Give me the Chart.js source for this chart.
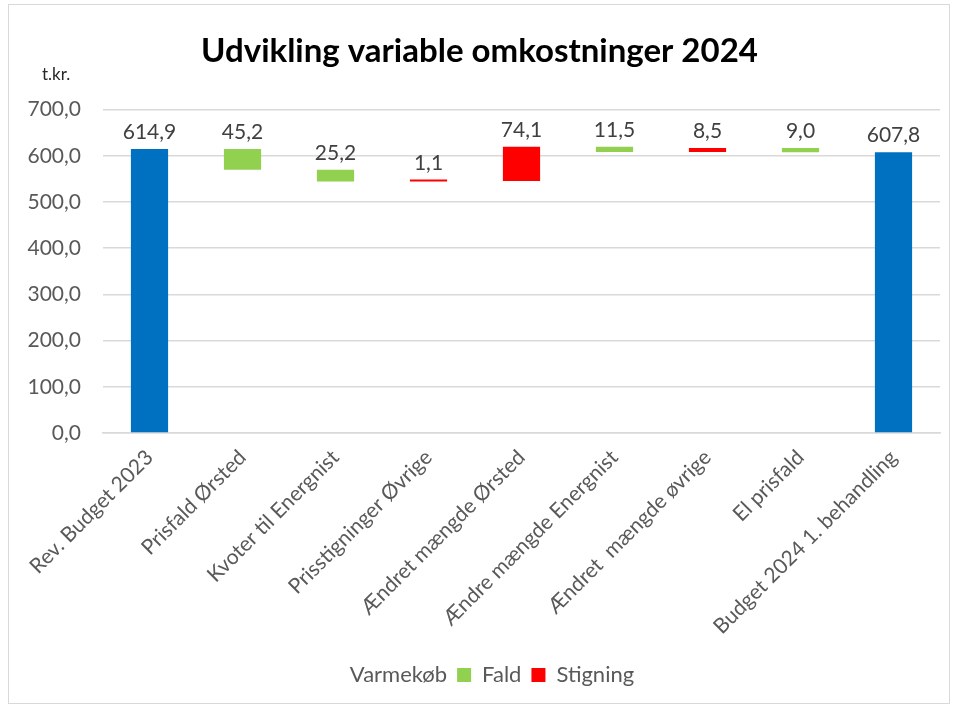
<!DOCTYPE html>
<html>
<head>
<meta charset="utf-8">
<script src="https://cdn.jsdelivr.net/npm/chart.js@4"></script>
<style>
    body { margin: 0; background: #fff; }
    #Wrap { position: absolute; left: 8px; top: 4px; width: 940px; height: 698px; border: 1px solid #D9D9D9; }
    #Unit { position: absolute; left: 33px; top: 58px; font: 17px Lato, sans-serif; color: #262626; }
</style>
</head>
<body>
<div id="Wrap">
    <canvas id="ChartCanvas1" width="940" height="698"></canvas>
    <div id="Unit">t.kr.</div>
</div>
<script>
const categories = ['Rev. Budget 2023', 'Prisfald Ørsted', 'Kvoter til Energnist', 'Prisstigninger Øvrige',
                    'Ændret mængde Ørsted', 'Ændre mængde Energnist', 'Ændret  mængde øvrige', 'El prisfald',
                    'Budget 2024 1. behandling'];
// Start total, changes (negative = fald, positive = stigning), end total
const startValue = 614.9;
const changes    = [null, -45.2, -25.2, 1.1, 74.1, -11.5, 8.5, -9.0, null];
const endValue   = 607.8;
const yTicks     = [0, 100, 200, 300, 400, 500, 600, 700];

Initialize();

function Initialize()
{
    const ctx  = document.getElementById('ChartCanvas1').getContext('2d');
    const fmt  = v => v.toFixed(1).replace('.', ',');
    const font = 'Lato, sans-serif';

    // Build floating bars from the running total
    const totals = [], fald = [], stigning = [], labels = [];
    let running = startValue;
    categories.forEach((c, i) =>
    {
        if (i === 0)                          { totals.push([0, startValue]); fald.push(null); stigning.push(null); labels.push(startValue); }
        else if (i === categories.length - 1) { totals.push([0, endValue]);   fald.push(null); stigning.push(null); labels.push(endValue); }
        else
        {
            const next = running + changes[i];
            const bar  = [Math.min(running, next), Math.max(running, next)];
            totals.push(null);
            fald.push(changes[i] < 0 ? bar : null);
            stigning.push(changes[i] > 0 ? bar : null);
            labels.push(Math.abs(changes[i]));
            running = next;
        }
    });

    const valueLabels =
    {
        id: 'valueLabels',
        afterDatasetsDraw(chart)
        {
            const c = chart.ctx;
            c.save();
            c.font = '21px ' + font;
            c.fillStyle = '#404040';
            c.textAlign = 'center';
            c.textBaseline = 'bottom';
            chart.data.datasets.forEach((ds, di) =>
            {
                chart.getDatasetMeta(di).data.forEach((el, i) =>
                {
                    if (ds.data[i] == null) return;
                    c.fillText(fmt(labels[i]), el.x, el.y - 6);
                });
            });
            c.restore();
        }
    };

    const common = { grouped: false, barPercentage: 0.4, categoryPercentage: 1, borderSkipped: false, minBarLength: 2 };

    new Chart(ctx,
    {
        type: 'bar',
        data:
        {
            labels: categories,
            datasets:
            [
                { label: 'Varmekøb', data: totals,   backgroundColor: '#0070C0', ...common },
                { label: 'Fald',     data: fald,     backgroundColor: '#92D050', ...common },
                { label: 'Stigning', data: stigning, backgroundColor: '#FF0000', ...common }
            ]
        },
        options:
        {
            responsive: false,
            animation: false,
            layout: { padding: { left: 10, right: 9, top: 0, bottom: 7 } },
            plugins:
            {
                title:
                {
                    display: true,
                    text: 'Udvikling variable omkostninger 2024',
                    color: '#000',
                    font: { family: font, size: 33, weight: 'bold' },
                    padding: { top: 27, bottom: 38 }
                },
                legend:
                {
                    position: 'bottom',
                    labels:
                    {
                        color: '#595959',
                        font: { family: font, size: 22 },
                        boxWidth: 14, boxHeight: 14,
                        generateLabels(chart)
                        {
                            return chart.data.datasets.map((ds, i) => ({
                                text: ds.label,
                                fillStyle: i === 0 ? 'rgba(0,0,0,0)' : ds.backgroundColor,
                                strokeStyle: 'rgba(0,0,0,0)',
                                lineWidth: 0,
                                fontColor: '#595959',
                                datasetIndex: i
                            }));
                        }
                    }
                },
                tooltip: { enabled: false }
            },
            scales:
            {
                x:
                {
                    afterFit: axis => { axis.height = 221; },
                    grid: { display: false },
                    border: { color: '#D9D9D9', width: 1.5 },
                    ticks: { color: '#595959', font: { family: font, size: 21 }, maxRotation: 45, minRotation: 45, autoSkip: false, padding: 4 }
                },
                y:
                {
                    min: yTicks[0],
                    max: yTicks[yTicks.length - 1],
                    afterBuildTicks: axis => { axis.ticks = yTicks.map(v => ({ value: v })); },
                    afterFit: axis => { axis.width = 84; },
                    grid: { color: '#D9D9D9', lineWidth: 1.5, drawTicks: false },
                    border: { display: false },
                    ticks: { color: '#595959', font: { family: font, size: 21 }, padding: 22, callback: v => fmt(v) }
                }
            }
        },
        plugins: [valueLabels]
    });
}
</script>
</body>
</html>
